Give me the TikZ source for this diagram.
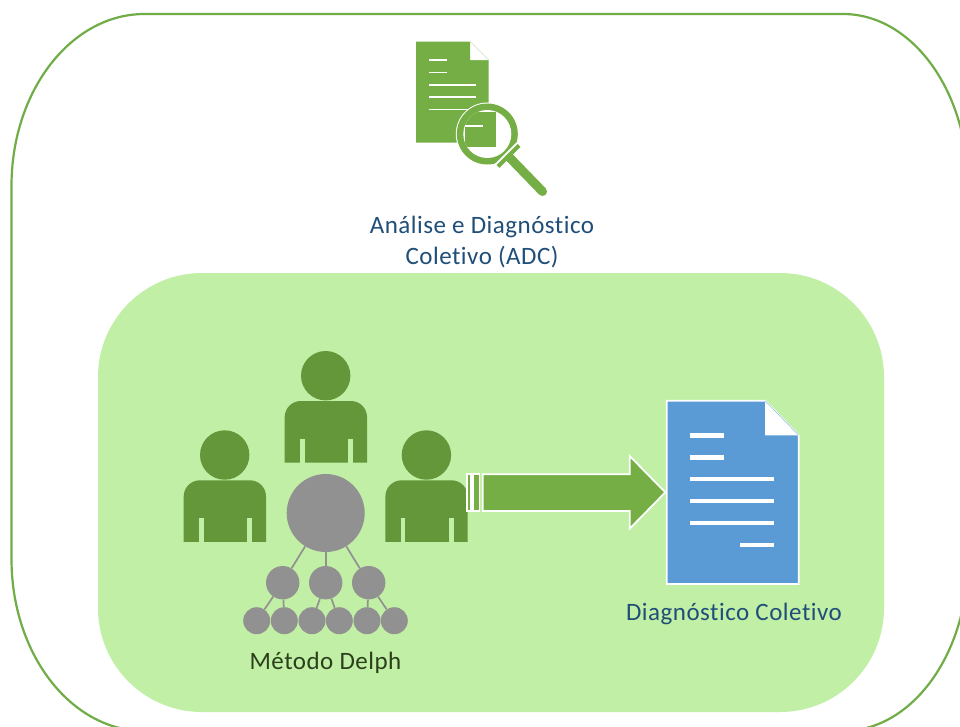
\documentclass[tikz,border=0pt]{standalone}
\usepackage{fontspec}
\setmainfont[Ligatures=NoCommon,LetterSpace=2.0]{Carlito}
\definecolor{linegreen}{HTML}{70AD47}
\definecolor{iconfill}{HTML}{74AE44}
\definecolor{panelgreen}{HTML}{C1EFA5}
\definecolor{persongreen}{HTML}{649739}
\definecolor{treegrey}{HTML}{919191}
\definecolor{docblue}{HTML}{5B9BD5}
\definecolor{textblue}{HTML}{1F4E79}
\definecolor{textdark}{HTML}{2B3F1C}
\tikzset{
  big/.style={circle,fill=treegrey,draw=none,inner sep=0pt,minimum size=78pt},
  mid/.style={circle,fill=treegrey,draw=none,inner sep=0pt,minimum size=33.4pt},
  low/.style={circle,fill=treegrey,draw=none,inner sep=0pt,minimum size=27pt},
  treeline/.style={draw=treegrey,line width=1.7pt},
  docline/.style={fill=white,draw=none},
  iconline/.style={draw=white,line width=1.6pt},
  whiteedge/.style={draw=white,line width=1.8pt},
  caption/.style={inner sep=0pt,align=center,font=\fontsize{25}{31}\selectfont,text=textblue},
}
\newcommand{\personfig}[2]{%
  \begin{scope}[shift={(#1,#2)}]
    \fill[persongreen] (0.7,0) circle[radius=24.7pt];
    \fill[persongreen] (-40.3,86.8) -- (-40.3,41.3) .. controls (-40.3,32.5) and (-33,25.3) .. (-24.3,25.3) -- (26,25.3) .. controls (34.8,25.3) and (42,32.5) .. (42,41.3) -- (42,86.8) -- cycle;
    \fill[panelgreen] (-25,87.5) rectangle (-20.3,63.3);
    \fill[panelgreen] (23.2,87.5) rectangle (27.9,63.3);
  \end{scope}}
\begin{document}
\begin{tikzpicture}[x=1pt,y=-1pt]
\clip (0,0) rectangle (960,726);
\fill[white] (0,0) rectangle (960,726);
% outer frame
\draw[linegreen,line width=2.2pt] (11.5,186) .. controls (11.5,91) and (71,14) .. (144.5,14)
  -- (843,14) .. controls (912,14) and (968,91) .. (968,186)
  -- (968,559) .. controls (968,654) and (912,731) .. (843,731)
  -- (144.5,731) .. controls (71,731) and (11.5,654) .. (11.5,559) -- cycle;
% inner panel
\fill[panelgreen,rounded corners=104pt] (98,273) rectangle (884,712);
% magnifier icon
\fill[iconfill] (416,41.7) -- (470.3,41.7) -- (470.3,60) -- (488.7,60) -- (488.7,142.7) -- (416,142.7) -- cycle;
\fill[white] (470.3,41.7) -- (488.7,60) -- (470.3,60) -- cycle;
\draw[iconfill!50,line width=0.4pt] (470.3,41.7) -- (488.7,60);
\foreach \yy/\xe in {60/447.3,72.3/447.3,84.7/475.7,97/475.7,109.3/475.7}
  \draw[iconline] (429,\yy) -- (\xe,\yy);
\fill[white] (487.3,134) circle[radius=31.5pt];
\fill[iconfill] (487.3,134) circle[radius=30.5pt];
\fill[white] (487.3,134) circle[radius=24pt];
\begin{scope}
  \clip (487.3,134) circle[radius=24pt];
  \fill[iconfill] (465.3,111.7) rectangle (496,147.3);
  \draw[iconline] (465,125.7) -- (483.3,125.7);
\end{scope}
\draw[white,line width=6pt] (496.5,166.5) -- (518.5,144.5);
\draw[iconfill,line width=4pt] (498,166.5) -- (519,145.5);
\draw[iconfill,line width=9pt,line cap=round] (510,158) -- (542.5,191.5);
% people
\personfig{325}{375.7}
\personfig{224}{455}
\personfig{425.7}{455}
% tree
\node[big] (c0) at (325.7,513) {};
\node[mid] (m1) at (282.7,582.7) {};
\node[mid] (m2) at (325.7,582.7) {};
\node[mid] (m3) at (368.7,582.7) {};
\node[low] (b1) at (256.7,620.7) {};
\node[low] (b2) at (284.3,620.7) {};
\node[low] (b3) at (312,620.7) {};
\node[low] (b4) at (339.3,620.7) {};
\node[low] (b5) at (367,620.7) {};
\node[low] (b6) at (394.3,620.7) {};
\foreach \p/\q in {c0/m1,c0/m2,c0/m3,m1/b1,m1/b2,m2/b3,m2/b4,m3/b5,m3/b6}
  \draw[treeline] (\p) -- (\q);
% arrow
\filldraw[fill=iconfill,whiteedge] (466.7,474.3) rectangle (470.7,511);
\filldraw[fill=iconfill,whiteedge] (473,474.3) rectangle (479.5,511);
\filldraw[fill=iconfill,whiteedge] (482.7,474.3) -- (629.7,474.3) -- (629.7,456) -- (665.3,492.3) -- (629.7,528.7) -- (629.7,511) -- (482.7,511) -- cycle;
% blue document
\filldraw[fill=docblue,whiteedge] (666.7,400.7) -- (765,400.7) -- (798.7,435.3) -- (798.7,584) -- (666.7,584) -- cycle;
\fill[white] (765,400.7) -- (798.7,435.3) -- (765,435.3) -- cycle;
\draw[docblue!70,line width=0.5pt] (765,400.7) -- (798.7,435.3);
\foreach \yy/\xs/\xe in {435.3/690.3/724.3,457.3/690.3/724.3,479/690.3/774,501/690.3/774,523/690.3/774,545/740.3/774}
  \fill[docline] (\xs,\yy-2.2) rectangle (\xe,\yy+2.2);
% labels
\node[caption] (adc) at (482,242.5) {Análise e Diagnóstico\\Coletivo (ADC)};
\node[caption] (diag) at (734,613.5) {Diagnóstico Coletivo};
\node[caption,text=textdark] (delph) at (325.5,662.5) {Método Delph};
\end{tikzpicture}
\end{document}
